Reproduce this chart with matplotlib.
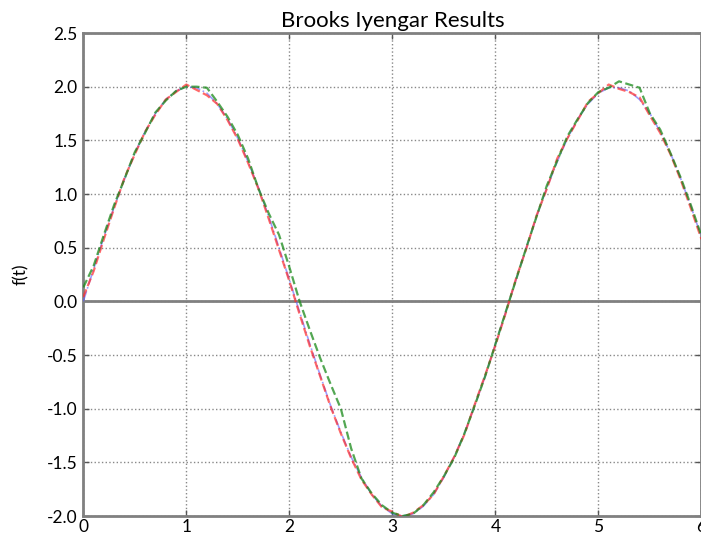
import matplotlib
matplotlib.use("Agg")
import matplotlib.pyplot as plt

plt.rcParams['font.family'] = ['Lato', 'DejaVu Sans']

t = [0.0, 0.1, 0.2, 0.3, 0.4, 0.5, 0.6, 0.7, 0.8, 0.9,
     1.0, 1.1, 1.2, 1.3, 1.4, 1.5, 1.6, 1.7, 1.8, 1.9,
     2.0, 2.1, 2.2, 2.3, 2.4, 2.5, 2.6, 2.7, 2.8, 2.9,
     3.0, 3.1, 3.2, 3.3, 3.4, 3.5, 3.6, 3.7, 3.8, 3.9,
     4.0, 4.1, 4.2, 4.3, 4.4, 4.5, 4.6, 4.7, 4.8, 4.9,
     5.0, 5.1, 5.2, 5.3, 5.4, 5.5, 5.6, 5.7, 5.8, 5.9, 6.0]

ideal = [0.00, 0.30, 0.60, 0.88, 1.14, 1.38, 1.58, 1.75, 1.88, 1.96,
         2.00, 1.99, 1.94, 1.84, 1.70, 1.52, 1.30, 1.06, 0.79, 0.50,
         0.20, -0.10, -0.40, -0.69, -0.97, -1.22, -1.45, -1.64, -1.80, -1.91,
         -1.98, -2.00, -1.98, -1.91, -1.80, -1.64, -1.45, -1.23, -0.97, -0.70,
         -0.40, -0.10, 0.20, 0.50, 0.79, 1.06, 1.30, 1.52, 1.70, 1.84,
         1.94, 1.99, 1.99, 1.96, 1.88, 1.75, 1.58, 1.38, 1.14, 0.88, 0.60]

red = [0.04, 0.28, 0.58, 0.87, 1.15, 1.37, 1.58, 1.74, 1.88, 1.95,
       2.02, 1.97, 1.92, 1.84, 1.69, 1.51, 1.29, 1.05, 0.77, 0.48,
       0.19, -0.12, -0.42, -0.70, -0.98, -1.23, -1.46, -1.66, -1.80, -1.92,
       -1.96, -2.01, -1.97, -1.90, -1.80, -1.63, -1.45, -1.24, -0.96, -0.69,
       -0.41, -0.11, 0.21, 0.49, 0.80, 1.05, 1.33, 1.52, 1.69, 1.86,
       1.94, 2.02, 1.98, 1.95, 1.90, 1.73, 1.57, 1.37, 1.13, 0.86, 0.58]

green = [0.13, 0.33, 0.62, 0.90, 1.14, 1.39, 1.57, 1.76, 1.87, 1.96,
         2.00, 2.00, 1.99, 1.86, 1.72, 1.55, 1.33, 1.05, 0.82, 0.62,
         0.32, 0.00, -0.27, -0.53, -0.77, -1.00, -1.37, -1.65, -1.79, -1.90,
         -1.97, -2.00, -1.98, -1.90, -1.78, -1.63, -1.46, -1.23, -0.97, -0.70,
         -0.40, -0.10, 0.20, 0.50, 0.79, 1.08, 1.31, 1.54, 1.70, 1.85,
         1.95, 1.99, 2.05, 2.02, 1.99, 1.75, 1.60, 1.38, 1.15, 0.89, 0.61]

title = "Brooks Iyengar Results"
ylabel = "f(t)"
xticks = [0, 1, 2, 3, 4, 5, 6]
yticks = [-2.0, -1.5, -1.0, -0.5, 0.0, 0.5, 1.0, 1.5, 2.0, 2.5]

fig = plt.figure(figsize=(7.01, 5.37), dpi=100)
ax = fig.add_axes([0.1188, 0.0391, 0.8818, 0.8994])

ax.plot(t, ideal, linestyle='-.', color='#5a5aff', alpha=0.6, linewidth=1.2, zorder=3)
ax.plot(t, red, linestyle='--', color='#ff2a2a', alpha=0.7, linewidth=1.6, zorder=4)
ax.plot(t, green, linestyle='--', color='#1a8a1a', alpha=0.75, linewidth=1.6, zorder=5)

ax.axhline(0, color='#808080', linewidth=2.0, zorder=2)

ax.set_xlim(0, 6)
ax.set_ylim(-2.0, 2.5)
ax.set_xticks(xticks)
ax.set_yticks(yticks)
ax.set_xticklabels([str(v) for v in xticks])
ax.set_yticklabels([f"{v:.1f}" for v in yticks])

ax.grid(True, linestyle=':', color='#888888', linewidth=1.0, zorder=1)
ax.set_axisbelow(True)

for s in ax.spines.values():
    s.set_color('#808080')
    s.set_linewidth(2.0)

ax.tick_params(axis='both', direction='in', length=4, width=1, color='#555555',
               labelsize=12.5, top=True, right=True)
ax.tick_params(axis='y', pad=4)
ax.tick_params(axis='x', pad=2)

ax.set_title(title, fontsize=16, pad=4)
ax.set_ylabel(ylabel, fontsize=12.5, labelpad=13)

fig.savefig("out.png", dpi=100)
